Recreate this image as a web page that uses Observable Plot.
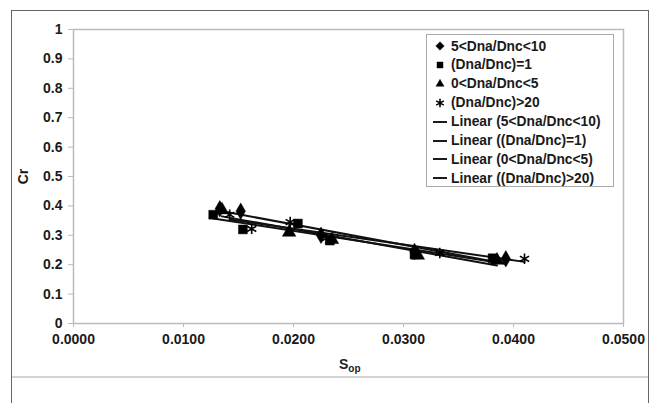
<!DOCTYPE html>
<html><head><meta charset="utf-8">
<script src="https://cdn.jsdelivr.net/npm/d3@7"></script>
<script src="https://cdn.jsdelivr.net/npm/@observablehq/plot@0.6"></script>
<style>
body{margin:0;background:#fff;font-family:"Liberation Sans",Arial,sans-serif;}
#wrap{position:relative;width:657px;height:403px;overflow:hidden;background:#fff}
#border{position:absolute;left:11px;top:10px;width:638px;height:420px;border:1.5px solid #666;box-sizing:border-box;pointer-events:none}
#sep{position:absolute;left:12px;top:376px;width:636px;height:2px;background:#d4d4d4}
#chart{position:absolute;left:0;top:0}
#xlabel{position:absolute;left:339px;top:356px;font-weight:bold;font-size:14px;color:#222}
#xlabel sub{font-size:10px;vertical-align:-3px}
#legend{position:absolute;left:426px;top:34px;width:188px;height:153px;border:1px solid #aaa;box-sizing:border-box;background:#fff}
.row{position:absolute;left:6px;height:16px;display:flex;align-items:center;font-weight:bold;font-size:13.8px;color:#1a1a1a;white-space:nowrap}
.row svg{width:14px;height:14px;margin-right:4px;flex:none}
</style></head>
<body><div id="wrap"><div id="chart"></div><div id="sep"></div>
<div id="xlabel">S<sub>op</sub></div>
<div id="legend"></div><div id="border"></div></div>
<script>
// Series names
const seriesNames = ["5<Dna/Dnc<10", "(Dna/Dnc)=1", "0<Dna/Dnc<5", "(Dna/Dnc)>20"];
const seriesSymbols = ["diamond", "square", "triangle", "asterisk"];
// Series values (S_op, Cr)
const s1X = [0.0133, 0.0152, 0.0225, 0.0310, 0.0393];
const s1Y = [0.390, 0.382, 0.300, 0.245, 0.220];
const s2X = [0.0127, 0.0154, 0.0204, 0.0233, 0.0310, 0.0381];
const s2Y = [0.370, 0.320, 0.340, 0.282, 0.235, 0.222];
const s3X = [0.0135, 0.0196, 0.0235, 0.0313, 0.0385];
const s3Y = [0.386, 0.310, 0.285, 0.232, 0.215];
const s4X = [0.0142, 0.0162, 0.0197, 0.0230, 0.0333, 0.0410];
const s4Y = [0.370, 0.322, 0.345, 0.290, 0.240, 0.220];
// Tick values
const xTicks = [0, 0.01, 0.02, 0.03, 0.04, 0.05];
const yTicks = [0, 0.1, 0.2, 0.3, 0.4, 0.5, 0.6, 0.7, 0.8, 0.9, 1];

const allX = [s1X, s2X, s3X, s4X], allY = [s1Y, s2Y, s3Y, s4Y];
const data = [];
allX.forEach((xs, i) => xs.forEach((x, j) => data.push({series: seriesNames[i], x, y: allY[i][j]})));

const plot = Plot.plot({
  width: 657, height: 403,
  marginLeft: 73, marginRight: 34, marginTop: 29, marginBottom: 80,
  style: {fontFamily: "'Liberation Sans', Arial, sans-serif", fontSize: "14px", fontWeight: "bold", color: "#1a1a1a", background: "transparent"},
  x: {domain: [0, 0.05]},
  y: {domain: [0, 1]},
  symbol: {domain: seriesNames, range: seriesSymbols},
  marks: [
    Plot.frame({stroke: "#bbb", strokeWidth: 1.5}),
    Plot.axisX({ticks: xTicks, tickFormat: d => d.toFixed(4), tickSize: 4, tickPadding: 7, stroke: "#bbb", fill: "#1a1a1a", fontWeight: "bold", fontSize: 14, label: null}),
    Plot.axisY({ticks: yTicks, tickFormat: d => String(+d.toFixed(1)), tickSize: 5, tickPadding: 6, stroke: "#bbb", fill: "#1a1a1a", fontWeight: "bold", fontSize: 14, label: "Cr", labelAnchor: "center", labelOffset: 55, labelArrow: "none"}),
    Plot.linearRegressionY(data, {x: "x", y: "y", z: "series", stroke: "#111", strokeWidth: 2, ci: 0}),
    Plot.dot(data, {x: "x", y: "y", symbol: "series", r: 5, fill: d => d.series === seriesNames[3] ? "none" : "#000", stroke: "#000", strokeWidth: d => d.series === seriesNames[3] ? 1.6 : 0.5})
  ]
});
document.getElementById("chart").appendChild(plot);

// Legend
const legend = document.getElementById("legend");
const symMap = {diamond: d3.symbolDiamond2, square: d3.symbolSquare2, triangle: d3.symbolTriangle2, asterisk: d3.symbolAsterisk};
const rows = seriesNames.map((n, i) => ({label: n, sym: seriesSymbols[i]}))
  .concat(seriesNames.map(n => ({label: "Linear (" + n + ")", sym: null})));
rows.forEach((r, i) => {
  const div = document.createElement("div");
  div.className = "row";
  div.style.top = (3 + i * 18.9) + "px";
  const svg = d3.create("svg").attr("viewBox", "-8 -8 16 16");
  if (r.sym) {
    const isStar = r.sym === "asterisk";
    svg.append("path").attr("d", d3.symbol(symMap[r.sym], isStar ? 70 : 60)())
      .attr("fill", isStar ? "none" : "#000").attr("stroke", "#000").attr("stroke-width", isStar ? 1.8 : 0.5);
    div.style.left = "6px";
  } else {
    svg.append("line").attr("x1", -9).attr("x2", 8).attr("y1", 0).attr("y2", 0).attr("stroke", "#111").attr("stroke-width", 2.2);
    div.style.left = "6px";
  }
  div.appendChild(svg.node());
  const span = document.createElement("span");
  span.textContent = r.label;
  div.appendChild(span);
  legend.appendChild(div);
});
</script></body></html>
